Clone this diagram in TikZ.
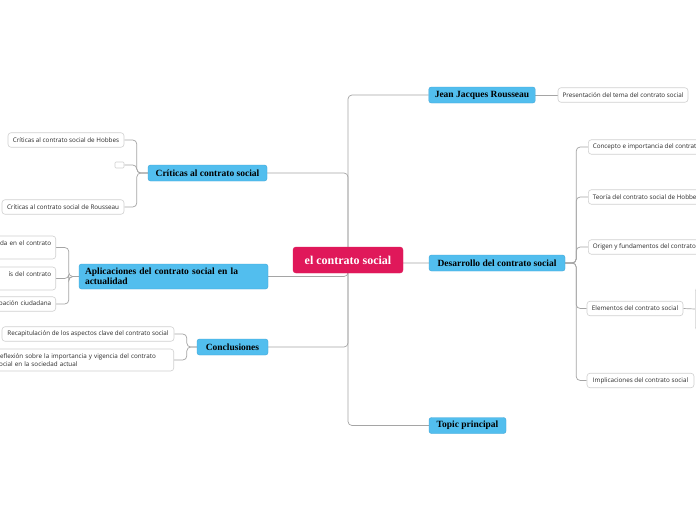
\documentclass[tikz,border=0pt]{standalone}
\usepackage{fontspec}
\setmainfont{Liberation Serif}
\newfontfamily\subf{Open Sans}
\usetikzlibrary{backgrounds}
\definecolor{topicblue}{RGB}{82,190,238}
\definecolor{topicborder}{RGB}{62,165,215}
\definecolor{rootred}{RGB}{224,24,90}
\definecolor{linegray}{RGB}{165,165,165}
\definecolor{subborder}{RGB}{208,208,208}
\definecolor{subtext}{RGB}{40,40,40}
\tikzset{
  rootbox/.style={fill=rootred, draw=rootred, rounded corners=3, text=white,
    font=\bfseries\fontsize{12}{14}\selectfont, minimum height=26, inner sep=0},
  topicbox/.style={fill=topicblue, draw=topicborder, line width=0.4, rounded corners=2.5,
    font=\bfseries\fontsize{9.5}{10}\selectfont, text=black, minimum height=16, inner xsep=6, inner ysep=0},
  subbox/.style={fill=white, draw=subborder, line width=0.6, rounded corners=3,
    font=\subf\fontsize{6.3}{8}\selectfont, text=subtext, minimum height=14.5, inner xsep=4.5, inner ysep=0},
  conn/.style={draw=linegray, line width=0.7, rounded corners=4},
}
\begin{document}
\begin{tikzpicture}[x=1pt,y=-1pt]
\useasboundingbox (0,0) rectangle (696,520);
\clip (0,0) rectangle (696,520);
\begin{scope}[on background layer]
  \fill[white] (0,0) rectangle (696,520);
\end{scope}

% root and main topics
\node[rootbox, minimum width=110] (root) at (348,260) {el contrato social};
\node[topicbox, minimum width=106] (jean) at (482,95) {Jean Jacques Rousseau};
\node[topicbox, minimum width=136] (des) at (497,263) {Desarrollo del contrato social};
\node[topicbox, minimum width=77] (topic) at (467.5,425.5) {Topic principal};
\node[topicbox, minimum width=119] (crit) at (207.5,173) {Críticas al contrato social};
\node[topicbox, minimum width=189, minimum height=25, text width=177, align=left] (apl) at (173.5,276.5)
  {Aplicaciones del contrato social en la\\actualidad};
\node[topicbox, minimum width=71] (concl) at (232.5,347) {Conclusiones};

% right subtopics
\node[subbox, minimum width=130] (pres) at (623,95) {Presentación del tema del contrato social};
\node[subbox, anchor=west] (conc) at (588,147) {Concepto e importancia del contrato social};
\node[subbox, anchor=west] (teor) at (588,197) {Teoría del contrato social de Hobbes};
\node[subbox, anchor=west] (orig) at (588,247) {Origen y fundamentos del contrato social};
\node[subbox, minimum width=96] (elem) at (635,308.5) {Elementos del contrato social};
\node[subbox, anchor=west, minimum width=40, minimum height=42] (elemc) at (695,309) {};
\node[subbox, minimum width=107] (impl) at (640.5,380.5) {Implicaciones del contrato social};

% left subtopics
\node[subbox, minimum width=116] (hob) at (66,140) {Críticas al contrato social de Hobbes};
\node[subbox, minimum width=9, minimum height=6, inner sep=0, rounded corners=1] (empt) at (119.5,165) {};
\node[subbox, minimum width=122] (rou) at (63,207) {Críticas al contrato social de Rousseau};
\node[subbox, anchor=east, minimum height=23, text width=90, align=right] (a1) at (56,247.5)
  {ada en el contrato\\\mbox{}};
\node[subbox, anchor=east, minimum height=23, text width=90, align=right] (a2) at (56,278.5)
  {ís del contrato\hspace*{8pt}\\\mbox{}};
\node[subbox, anchor=east, text width=90, align=right] (a3) at (56,304) {pación ciudadana};
\node[subbox, minimum width=172] (rec) at (88,334) {Recapitulación de los aspectos clave del contrato social};
\node[subbox, anchor=east, minimum height=22, text width=173, align=left] (ref) at (174,360)
  {Reflexión sobre la importancia y vigencia del contrato\\social en la sociedad actual};

% connectors
\begin{scope}[on background layer]
  \draw[conn] (root.center) |- (jean.west);
  \draw[conn] (root.center) |- (des.west);
  \draw[conn] (root.center) |- (topic.west);
  \draw[conn] (root.center) |- (crit.east);
  \draw[conn] (root.center) |- (apl.east);
  \draw[conn] (root.center) |- (concl.east);
  \draw[conn] (jean.east) -- (pres.west);
  \draw[conn] (des.east) -- ++(11,0) |- (conc.west);
  \draw[conn] (des.east) -- ++(11,0) |- (teor.west);
  \draw[conn] (des.east) -- ++(11,0) |- (orig.west);
  \draw[conn] (des.east) -- ++(11,0) |- (elem.west);
  \draw[conn] (des.east) -- ++(11,0) |- (impl.west);
  \draw[conn] (elem.east) -- (elemc.west);
  \draw[conn] (crit.west) -- ++(-11,0) |- (hob.east);
  \draw[conn] (crit.west) -- ++(-11,0) |- (empt.east);
  \draw[conn] (crit.west) -- ++(-11,0) |- (rou.east);
  \draw[conn] (apl.west) -- ++(-10,0) |- (a1.east);
  \draw[conn] (apl.west) -- ++(-10,0) |- (a2.east);
  \draw[conn] (apl.west) -- ++(-10,0) |- (a3.east);
  \draw[conn] (concl.west) -- ++(-10,0) |- (rec.east);
  \draw[conn] (concl.west) -- ++(-10,0) |- (ref.east);
\end{scope}
\end{tikzpicture}
\end{document}
